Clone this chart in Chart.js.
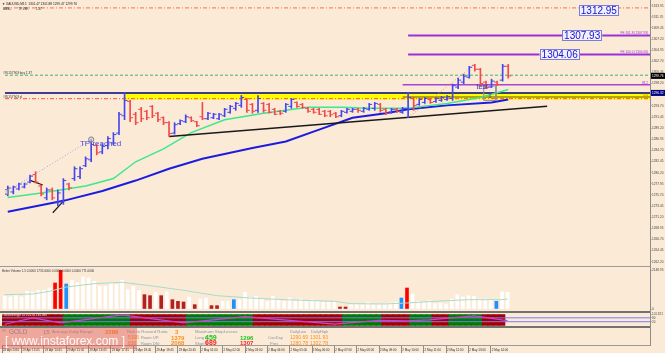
<!DOCTYPE html>
<html>
<head>
<meta charset="utf-8">
<script src="https://cdn.jsdelivr.net/npm/chart.js@4.4.1/dist/chart.umd.min.js"></script>
<style>
html,body{margin:0;padding:0;width:665px;height:353px;overflow:hidden;background:#fbebd6;}
canvas{position:absolute;left:0;display:block;}
.ln{position:absolute;}
</style>
</head>
<body>
<canvas id="cMain" width="665" height="267" style="top:0px"></canvas>
<canvas id="cVol" width="665" height="45" style="top:267px"></canvas>
<canvas id="cInd" width="665" height="16" style="top:312px"></canvas>
<canvas id="cInfo" width="665" height="25" style="top:328px"></canvas>
<div class="ln" style="left:0;top:266px;width:650px;height:1px;background:#9a9a9a"></div>
<div class="ln" style="left:0;top:311px;width:650px;height:2px;background:#727272"></div>
<div class="ln" style="left:0;top:326px;width:650px;height:2px;background:#727272"></div>
<div class="ln" style="left:650px;top:0;width:1px;height:346px;background:#8c8c8c"></div>
<script>
// ---------------- DATA ----------------
const timeLabels = ["28 Apr 2016","29 Apr 13:45","29 Apr 14:45","29 Apr 15:45","29 Apr 16:45","29 Apr 17:45","29 Apr 18:45","29 Apr 19:45","29 Apr 20:45","2 May 01:00","2 May 02:00","2 May 03:00","2 May 04:00","2 May 05:00","2 May 06:00","2 May 07:00","2 May 08:00","2 May 09:00","2 May 10:00","2 May 11:00","2 May 12:00","2 May 13:00","2 May 14:00"];
const yTicks = [1262.20,1264.45,1266.70,1268.95,1271.20,1273.45,1275.70,1277.95,1280.20,1282.45,1284.70,1286.95,1289.20,1291.45,1293.70,1295.95,1298.20,1300.45,1302.70,1304.95,1307.20,1309.45,1311.70,1313.95];

const opens  = [1275.9,1276.3,1276.9,1277.3,1278.3,1279.8,1277.5,1275.1,1276.7,1274.1,1274.3,1277.9,1279.0,1279.4,1281.6,1282.8,1285.7,1284.4,1285.7,1286.2,1288.2,1291.7,1294.6,1292.0,1293.0,1292.6,1293.6,1292.2,1291.3,1290.3,1288.2,1290.1,1290.5,1291.3,1290.5,1291.5,1291.1,1291.3,1291.1,1291.7,1292.4,1293.2,1293.8,1295.0,1294.0,1292.8,1294.2,1294.0,1293.0,1292.6,1292.6,1293.6,1294.4,1294.0,1293.2,1293.0,1293.0,1292.6,1292.6,1292.2,1291.7,1292.4,1292.6,1293.0,1292.6,1293.0,1293.2,1294.0,1293.0,1292.4,1293.0,1292.4,1293.2,1295.2,1294.0,1294.4,1295.0,1294.6,1294.8,1295.0,1295.2,1297.5,1298.5,1299.5,1301.9,1301.1,1298.5,1297.5,1298.5,1298.9,1301.7];
const highs  = [1277.5,1277.5,1278.1,1278.1,1279.7,1280.4,1277.7,1277.1,1277.1,1276.7,1279.0,1278.1,1281.4,1281.4,1283.4,1286.9,1285.9,1286.0,1287.5,1288.3,1292.4,1296.4,1294.8,1292.4,1293.4,1292.8,1293.8,1292.4,1291.5,1290.5,1290.3,1290.9,1291.9,1291.5,1290.6,1294.4,1292.4,1292.2,1292.2,1293.2,1293.8,1294.4,1295.8,1295.2,1294.2,1295.8,1294.4,1294.2,1293.2,1292.8,1294.2,1295.2,1294.5,1294.2,1293.4,1293.2,1293.2,1292.8,1292.8,1292.4,1292.8,1293.2,1293.2,1293.2,1293.4,1294.2,1294.4,1294.2,1293.2,1293.2,1293.2,1293.4,1296.4,1295.4,1295.2,1295.4,1295.2,1295.4,1295.6,1295.8,1298.1,1299.3,1300.1,1301.7,1302.1,1301.3,1298.7,1299.1,1298.7,1302.1,1302.1];
const lows   = [1275.5,1275.9,1276.7,1277.1,1278.1,1278.1,1275.5,1274.7,1274.7,1273.5,1273.8,1276.7,1278.6,1279.0,1281.4,1282.4,1283.8,1284.0,1285.0,1285.8,1287.9,1290.9,1290.5,1289.9,1290.5,1290.9,1291.3,1290.5,1289.9,1287.5,1288.0,1289.9,1290.3,1290.5,1289.5,1290.9,1290.9,1291.1,1290.9,1291.5,1292.2,1292.8,1293.4,1292.4,1292.2,1292.4,1292.4,1292.2,1291.9,1291.9,1292.4,1293.2,1293.4,1293.2,1292.4,1292.2,1291.9,1291.5,1291.5,1291.3,1291.5,1292.2,1292.4,1292.4,1292.4,1292.8,1292.8,1292.4,1291.9,1292.2,1292.4,1292.2,1291.3,1292.8,1293.8,1294.2,1294.2,1294.4,1294.6,1294.8,1294.8,1297.2,1298.2,1299.3,1300.7,1297.8,1297.2,1297.4,1297.8,1298.7,1299.3];
const closes = [1277.1,1277.3,1277.9,1277.9,1279.5,1278.3,1275.9,1276.7,1275.1,1276.1,1278.6,1277.1,1281.0,1281.0,1283.0,1285.9,1284.2,1285.5,1287.1,1287.9,1292.0,1294.8,1291.3,1290.3,1291.1,1291.3,1291.7,1290.9,1290.3,1288.1,1289.9,1290.7,1291.5,1290.7,1289.7,1291.1,1292.2,1292.0,1292.0,1293.0,1293.6,1294.2,1295.4,1292.8,1292.6,1295.2,1292.8,1292.4,1292.0,1292.2,1294.0,1295.0,1293.6,1293.4,1292.6,1292.4,1292.0,1291.7,1291.9,1291.5,1292.6,1293.0,1293.0,1292.8,1293.2,1294.0,1294.2,1292.8,1292.2,1293.0,1292.6,1293.2,1295.4,1293.8,1295.0,1295.2,1294.4,1295.2,1295.4,1295.6,1297.8,1298.9,1299.7,1301.5,1301.1,1298.2,1297.4,1298.7,1298.0,1301.7,1299.76];

const greenMaIdx = [0,6,14,19,23,28,33,39,46,50,54,60,65,69,72,76,79,85,90];
const greenMaVal = [1275.2,1276.1,1277.5,1279.0,1282.4,1285.0,1288.3,1290.9,1292.2,1292.8,1293.4,1293.4,1293.2,1293.2,1293.2,1293.8,1294.2,1295.4,1297.0];
const blueMaIdx  = [0,10,17,23,29,35,44,50,56,62,68,72,79,87,90];
const blueMaVal  = [1272.3,1274.5,1276.5,1278.6,1281.0,1283.0,1285.2,1286.5,1288.9,1291.3,1292.2,1293.0,1293.8,1294.4,1295.0];

const levelTP = 1313.50, levelFE1618 = 1307.93, levelFE100 = 1304.06, levelFib382 = 1297.96;
const levelBuy = 1299.90, levelZoneTop = 1296.32, levelZero = 1295.50, levelSL = 1295.15, levelZoneBottom = 1295.00;
const lastPrice = 1299.76;
const priceTags = [1312.95, 1307.93, 1304.06];

const volumes = [698,661,735,661,974,918,1029,1029,1157,1433,2140,1378,1580,1433,1763,1708,1525,1249,1249,1396,1341,1580,1065,1249,1010,790,735,918,735,937,514,423,386,661,239,551,606,184,184,423,423,514,514,918,643,698,551,423,698,514,423,606,423,551,423,514,423,367,367,367,110,110,239,239,239,367,239,276,276,331,367,606,1157,827,423,367,459,294,331,276,551,790,661,735,698,551,551,478,423,937,918];
const volumeKind = "wwwwwwwww"+"rrb"+"wwwwwwwwwwwww"+"dd"+"w"+"d"+"w"+"ddd"+"w"+"d"+"ww"+"dd"+"ww"+"b"+"wwwwwwwwwwwwwwwwww"+"dd"+"wwwwwwwww"+"br"+"wwwwwwwwwwwwwww"+"b"+"ww";
const volMaIdx = [0,5,8,11,16,21,26,32,38,44,50,59,62,68,72,77,83,89,90];
const volMaVal = [790,827,974,1212,1396,1470,1286,1029,735,606,514,423,294,276,331,423,514,514,551];
const volumeMax = 2148.95;

const trendState = "RRRRRRRRRRR"+"GGGGGGGGGGGG"+"RRRRRRRRRR"+"GGGGGGGGGGGG"+"RRRRRRRRRRRRRRRR"+"GGGGGGG"+"RRRRR"+"GGGG"+"RRR"+"GGGGGG"+"RRRR";
const oscIdx = [0,5,10,21,32,43,59,67,72,76,84,85,89,90];
const oscVal = [13,69,24,95,24,80,13,47,42,51,87,80,51,45];
const oscLevels = [69, 35];

// ---------------- HELPERS ----------------
const FONT = '"Liberation Sans", "DejaVu Sans", Arial, sans-serif';
const XMIN = -0.5, XMAX = 115.5;
const hline = (v, from = XMIN, to = XMAX) => [{x: from, y: v}, {x: to, y: v}];
const pts = (ix, vals) => ix.map((i, k) => ({x: i, y: vals[k]}));
const UP = '#4646f0', DN = '#f04a4a';
const barColor = opens.map((o, i) => closes[i] >= o ? UP : DN);
const lineDs = (data, color, width, extra = {}) => Object.assign({type: 'line', data, borderColor: color, borderWidth: width, pointRadius: 0, fill: false, tension: 0, order: 20}, extra);
const xScale = {type: 'linear', min: XMIN, max: XMAX, display: false, offset: false, grid: {offset: false}};
const common = {responsive: false, animation: false, events: [], plugins: {legend: {display: false}, tooltip: {enabled: false}}};

// ---------------- MAIN PRICE CHART ----------------
const mainText = {
  id: 'mainText',
  afterDatasetsDraw(chart) {
    const {ctx, scales: {x, y}, chartArea: ca} = chart;
    ctx.save();
    ctx.textBaseline = 'alphabetic'; ctx.textAlign = 'left';
    ctx.font = '3.2px ' + FONT; ctx.fillStyle = '#202020';
    ctx.fillText('\u25BC XAUUSD,M15  1301.47 1301.88 1299.47 1299.76', 2, 5);
    ctx.fillText('BBSL        TP+SR        1.37', 3, 9.5);
    ctx.fillStyle = '#333';
    ctx.fillText('#95157903 buy 1.37', 3, y.getPixelForValue(levelBuy) - 1.5);
    ctx.fillText('#95157903 sl', 3, y.getPixelForValue(levelSL) - 1);
    // level labels at right
    ctx.textAlign = 'right';
    ctx.fillStyle = '#9b30d9';
    ctx.fillText('FE 161.8 (1307.93)', ca.right - 2, y.getPixelForValue(levelFE1618) - 1.8);
    ctx.fillText('FE 100.0 (1304.06)', ca.right - 2, y.getPixelForValue(levelFE100) - 1.8);
    ctx.fillText('38.2', ca.right - 2, y.getPixelForValue(levelFib382) - 1.2);
    ctx.fillStyle = '#a07000';
    ctx.fillText('0.0', ca.right - 2, y.getPixelForValue(levelZero) - 1);
    // price tag boxes
    const tagPos = [106.3, 103.3, 99.25];
    ctx.font = '10px ' + FONT; ctx.textAlign = 'center'; ctx.textBaseline = 'middle';
    priceTags.forEach((v, k) => {
      const s = v.toFixed(2);
      const px = x.getPixelForValue(tagPos[k]), py = y.getPixelForValue(v);
      const w = ctx.measureText(s).width + 4;
      ctx.fillStyle = '#f2efff'; ctx.fillRect(px - w / 2, py - 5.5, w, 11);
      ctx.strokeStyle = '#7d7dd6'; ctx.lineWidth = 1; ctx.strokeRect(Math.round(px - w / 2) + 0.5, Math.round(py - 5.5) + 0.5, Math.round(w) - 1, 10);
      ctx.fillStyle = '#1515d0'; ctx.fillText(s, px, py + 0.5);
    });
    // annotations
    ctx.font = '8px ' + FONT; ctx.fillStyle = '#4b4bd6';
    ctx.fillText('TP reached', x.getPixelForValue(16.7), y.getPixelForValue(1286.1));
    ctx.font = '7px ' + FONT; ctx.fillStyle = '#2a2ac8';
    ctx.fillText('test', x.getPixelForValue(85.3), y.getPixelForValue(1297.6));
    ctx.font = '8px "DejaVu Sans"'; ctx.fillStyle = '#3a3ac8';
    ctx.fillText('\u21E7', x.getPixelForValue(86.7), y.getPixelForValue(1295.8));
    // right axis highlighted tags
    ctx.font = '3.2px ' + FONT; ctx.textAlign = 'left';
    const tag = (v, bg, s) => {
      const py = y.getPixelForValue(v);
      ctx.fillStyle = bg; ctx.fillRect(ca.right + 1, py - 3, chart.width - ca.right - 1, 6);
      ctx.fillStyle = '#ffffff'; ctx.fillText(s, ca.right + 2, py + 0.3);
    };
    tag(lastPrice, '#000000', lastPrice.toFixed(2));
    tag(levelZoneTop, '#000080', levelZoneTop.toFixed(2));
    ctx.restore();
  }
};

new Chart(document.getElementById('cMain'), {
  type: 'bar',
  data: {
    datasets: [
      lineDs(hline(levelZoneTop, 21, XMAX), 'rgba(0,0,0,0)', 0, {fill: '+1', backgroundColor: '#ffff00', order: 40}),
      lineDs(hline(levelZoneBottom, 21, XMAX), 'rgba(0,0,0,0)', 0, {order: 40}),
      lineDs(hline(levelTP), '#ff6a5a', 1, {borderDash: [4, 2, 1, 2]}),
      lineDs(hline(levelFE1618, 72), '#9b30d9', 2),
      lineDs(hline(levelFE100, 72), '#9b30d9', 2),
      lineDs(hline(levelFib382, 71), '#a845cf', 1.5),
      lineDs(hline(levelBuy), '#3cb371', 1, {borderDash: [3, 2]}),
      lineDs(hline(levelZero, 71), '#a08a00', 1.5),
      lineDs(hline(levelSL), '#ff5030', 1, {borderDash: [4, 2, 1, 2]}),
      lineDs(hline(levelZoneTop), '#000080', 1.5, {order: 19}),
      lineDs(pts(greenMaIdx, greenMaVal), '#3ee68f', 1.5, {order: 12}),
      lineDs(pts(blueMaIdx, blueMaVal), '#1c1ce0', 2, {order: 12}),
      lineDs(pts([29, 97], [1287.5, 1293.6]), '#1a1a1a', 1.5, {order: 11}),
      lineDs(pts([3.9, 6.3], [1278.7, 1277.7]), '#1a1a1a', 1.2, {order: 11}),
      lineDs(pts([8.1, 10.2], [1272.1, 1274.7]), '#1a1a1a', 1.2, {order: 11}),
      lineDs(pts([-0.3, 15], [1276.3, 1286.9]), '#a0a0e6', 1, {borderDash: [1, 2], order: 11}),
      lineDs(pts([72, 84], [1291.3, 1302.1]), '#f0907e', 1, {borderDash: [1, 2], order: 11}),
      lineDs(pts([85.6, 87.8, 87.8, 85.6, 85.6], [1297.7, 1297.7, 1294.8, 1294.8, 1297.7]), '#8a8aa8', 1, {order: 11}),
      {type: 'bar', data: lows.map((l, i) => ({x: i, y: [l, highs[i]]})), backgroundColor: barColor, borderWidth: 0, barThickness: 1, order: 5},
      {type: 'line', showLine: false, data: opens.map((o, i) => ({x: i - 0.28, y: o})), pointStyle: 'line', pointRadius: 1.4, pointBorderWidth: 1, pointBorderColor: barColor, order: 4},
      {type: 'line', showLine: false, data: closes.map((c, i) => ({x: i + 0.28, y: c})), pointStyle: 'line', pointRadius: 1.4, pointBorderWidth: 1, pointBorderColor: barColor, order: 4},
      {type: 'line', showLine: false, data: pts([-0.3, 15], [1276.3, 1286.9]), pointStyle: 'circle', pointRadius: 2.6, pointBorderWidth: 1, pointBorderColor: '#808080', pointBackgroundColor: 'rgba(205,205,205,0.6)', order: 3}
    ]
  },
  options: Object.assign({}, common, {
    layout: {padding: {left: 2, top: 2, right: 0, bottom: 1}},
    scales: {
      x: xScale,
      y: {
        position: 'right', min: 1262.14, max: 1314.09, beginAtZero: false,
        afterBuildTicks: s => { s.ticks = yTicks.map(v => ({value: v})); },
        afterFit: s => { s.width = 15; },
        ticks: {autoSkip: false, font: {size: 3.2, family: FONT}, color: '#454545', padding: 0.5, callback: v => Number(v).toFixed(2)},
        grid: {drawOnChartArea: false, tickLength: 1.5, color: '#888'},
        border: {display: false}
      }
    }
  }),
  plugins: [mainText]
});

// ---------------- VOLUME CHART ----------------
const kindColor = {w: '#ffffff', r: '#ff0000', b: '#1e90ff', d: '#b22222'};
const volText = {
  id: 'volText',
  afterDatasetsDraw(chart) {
    const ctx = chart.ctx; ctx.save();
    ctx.font = '3px ' + FONT; ctx.fillStyle = '#333'; ctx.textAlign = 'left'; ctx.textBaseline = 'alphabetic';
    ctx.fillText('Better Volume 1.5 0.0000 1735.0000 0.0000 0.0000 0.0000 771.0000', 2, 4.6);
    ctx.restore();
  }
};
new Chart(document.getElementById('cVol'), {
  type: 'bar',
  data: {
    datasets: [
      lineDs(pts(volMaIdx, volMaVal), '#a6dccb', 1, {order: 2}),
      {type: 'bar', data: volumes.map((v, i) => ({x: i, y: v})), backgroundColor: volumes.map((v, i) => kindColor[volumeKind[i]]), borderWidth: 0, barThickness: 3, order: 5}
    ]
  },
  options: Object.assign({}, common, {
    layout: {padding: {left: 2, top: 3, right: 0, bottom: 3}},
    scales: {
      x: xScale,
      y: {
        position: 'right', min: 0, max: volumeMax, beginAtZero: true,
        afterBuildTicks: s => { s.ticks = [{value: 0}, {value: volumeMax}]; },
        afterFit: s => { s.width = 15; },
        ticks: {autoSkip: false, font: {size: 3.2, family: FONT}, color: '#454545', padding: 0.5, callback: v => v === 0 ? '0' : Number(v).toFixed(2)},
        grid: {drawOnChartArea: false, tickLength: 1.5, color: '#888'},
        border: {display: false}
      }
    }
  }),
  plugins: [volText]
});

// ---------------- TREND INDICATOR ----------------
const stateColor = {R: '#a30000', G: '#007a00'};
const indText = {
  id: 'indText',
  afterDatasetsDraw(chart) {
    const ctx = chart.ctx; ctx.save();
    ctx.font = '3px ' + FONT; ctx.fillStyle = '#e6e6e6'; ctx.textAlign = 'left'; ctx.textBaseline = 'alphabetic';
    ctx.fillText('TrendStrength 14 101.321 45.098', 2, 4);
    ctx.restore();
  }
};
new Chart(document.getElementById('cInd'), {
  type: 'bar',
  data: {
    datasets: [
      lineDs(hline(oscLevels[0]), '#7b7bf5', 1, {order: 3}),
      lineDs(hline(oscLevels[1]), '#7b7bf5', 1, {order: 3}),
      lineDs(pts(oscIdx, oscVal), '#d040d0', 1.2, {order: 2}),
      {type: 'bar', data: trendState.split('').map((s, i) => ({x: i, y: 100})), backgroundColor: trendState.split('').map(s => stateColor[s]), borderWidth: 0, barThickness: 6, order: 10}
    ]
  },
  options: Object.assign({}, common, {
    layout: {padding: {left: 2, top: 1, right: 0, bottom: 1}},
    scales: {
      x: xScale,
      y: {
        position: 'right', min: 0, max: 100,
        afterBuildTicks: s => { s.ticks = [{value: 97}, {value: 69}, {value: 35}]; },
        afterFit: s => { s.width = 15; },
        ticks: {autoSkip: false, font: {size: 3, family: FONT}, color: '#454545', padding: 0.5, callback: (v, i) => ['101.321', '80', '20'][i]},
        grid: {drawOnChartArea: false, tickLength: 1.5, color: '#888'},
        border: {display: false}
      }
    }
  }),
  plugins: [indText]
});

// ---------------- INFO PANEL + TIME AXIS ----------------
const infoText = {
  id: 'infoText',
  afterDraw(chart) {
    const ctx = chart.ctx; ctx.save();
    ctx.textAlign = 'left'; ctx.textBaseline = 'alphabetic';
    const t = (s, x, y, size, color, bold) => { ctx.font = (bold ? 'bold ' : '') + size + 'px ' + FONT; ctx.fillStyle = color; ctx.fillText(s, x, y); };
    const g = '#8494ab', o = '#ff8c1a', gr = '#22c422', rd = '#ff2222';
    t('TM', 2, 3.6, 2.6, g);
    t('GOLD', 9, 6.2, 6.5, g);
    t('15', 43, 6, 6, g);
    t('Average Daily Range:', 52, 5.2, 4.3, g);
    t('2286', 105, 5.8, 6, o, true);
    t('Risk to Reward Ratio:', 127, 5.2, 4.3, g);
    t('3', 175, 5.8, 6, o, true);
    t('Maximum StopLosses:', 195, 5.2, 4.3, g);
    t('DailyLow', 290, 5, 4, g);
    t('DailyHigh', 311, 5, 4, g);
    t('5106', 128, 11.4, 5, o);
    t('Room UP:', 141, 11.2, 4, g);
    t('1379', 171, 11.6, 6, o, true);
    t('Long P', 195, 11.2, 4, g);
    t('459', 205, 11.8, 7, gr, true);
    t('1296', 240, 11.6, 6, gr, true);
    t('CurrDay', 268, 11.2, 4, g);
    t('1290.69', 290, 11.4, 5, o);
    t('1301.93', 310, 11.4, 5, o);
    t('836', 128, 16.8, 5, o);
    t('Room DN:', 141, 16.6, 4, g);
    t('2068', 171, 17, 6, o, true);
    t('Short P', 195, 16.6, 4, g);
    t('689', 205, 17.2, 7, rd, true);
    t('1307', 240, 17, 6, rd, true);
    t('Prev', 270, 16.6, 4, g);
    t('1280.78', 290, 16.8, 5, o);
    t('1302.78', 310, 16.8, 5, o);
    // watermark
    ctx.fillStyle = 'rgba(222,84,84,0.45)';
    ctx.fillRect(0, 0, 137, 21);
    t('[ www.instaforex.com ]', 5, 17, 12, 'rgba(255,255,255,0.92)');
    ctx.restore();
  }
};
new Chart(document.getElementById('cInfo'), {
  type: 'line',
  data: {datasets: [{data: [], pointRadius: 0}]},
  options: Object.assign({}, common, {
    layout: {padding: {left: 2, top: 0, right: 15, bottom: 0}},
    scales: {
      x: {
        type: 'linear', min: XMIN, max: XMAX, position: 'bottom', offset: false,
        afterBuildTicks: s => { s.ticks = timeLabels.map((l, k) => ({value: k === 0 ? XMIN : 4 * k - 1})); },
        afterFit: s => { s.height = 8; },
        ticks: {autoSkip: false, maxRotation: 0, minRotation: 0, align: 'start', padding: -5, font: {size: 3, family: FONT}, color: '#303030', callback: (v, i) => ' ' + timeLabels[i]},
        grid: {drawOnChartArea: false, tickLength: 8, color: '#8c8c8c'},
        border: {display: true, color: '#9a9a9a'}
      },
      y: {display: false, min: 0, max: 1}
    }
  }),
  plugins: [infoText]
});
</script>
</body>
</html>
